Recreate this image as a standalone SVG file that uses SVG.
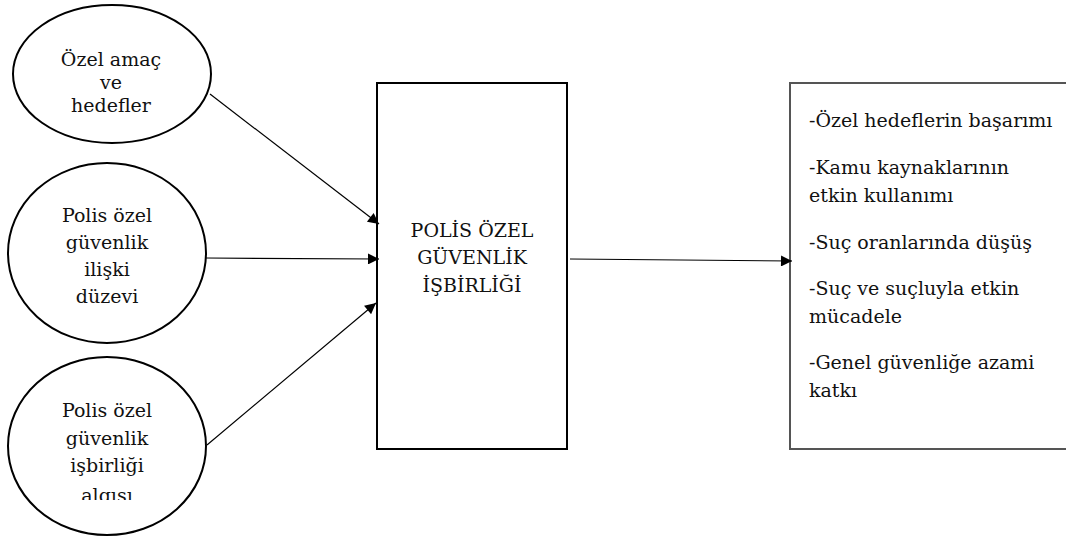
<svg xmlns="http://www.w3.org/2000/svg" width="1066" height="539" viewBox="0 0 1066 539">
<style>
.t{font-family:"DejaVu Serif","Liberation Serif",serif;font-size:19px;fill:#111;}
.c{text-anchor:middle;}
.node{fill:#fff;stroke:#000;stroke-width:2;}
.out{fill:#fff;stroke:#555;stroke-width:2;}
.edge{stroke:#000;stroke-width:1.2;fill:none;marker-end:url(#ah);}
</style>
<defs>
<marker id="ah" viewBox="0 0 10 10" refX="10" refY="5" markerWidth="15" markerHeight="11" markerUnits="userSpaceOnUse" orient="auto">
<path d="M0,0 L10,5 L0,10 z" fill="#000"/>
</marker>
<clipPath id="clip3"><rect x="0" y="350" width="220" height="150"/></clipPath>
</defs>
<rect width="1066" height="539" fill="#fff"/>
<g id="n1">
<ellipse class="node" cx="112" cy="74" rx="99" ry="69"/>
<text class="t c" x="111" y="66">Özel amaç</text>
<text class="t c" x="111" y="89">ve</text>
<text class="t c" x="111" y="112">hedefler</text>
</g>
<g id="n2">
<ellipse class="node" cx="107" cy="253" rx="99" ry="90"/>
<text class="t c" x="107" y="222">Polis özel</text>
<text class="t c" x="107" y="249">güvenlik</text>
<text class="t c" x="107" y="276">ilişki</text>
<text class="t c" x="107" y="303">düzevi</text>
</g>
<g id="n3">
<ellipse class="node" cx="107" cy="446" rx="99" ry="89"/>
<g clip-path="url(#clip3)">
<text class="t c" x="107" y="417">Polis özel</text>
<text class="t c" x="107" y="445">güvenlik</text>
<text class="t c" x="107" y="472">işbirliği</text>
<text class="t c" x="107" y="502">algısı</text>
</g>
</g>
<g id="center">
<rect class="node" x="377" y="83" width="190" height="366"/>
<text class="t c" x="472" y="237">POLİS ÖZEL</text>
<text class="t c" x="472" y="264">GÜVENLİK</text>
<text class="t c" x="472" y="292">İŞBİRLİĞİ</text>
</g>
<g id="outcome">
<rect class="out" x="790" y="83" width="290" height="366"/>
<text class="t" x="809" y="127">-Özel hedeflerin başarımı</text>
<text class="t" x="809" y="174">-Kamu kaynaklarının</text>
<text class="t" x="809" y="202">etkin kullanımı</text>
<text class="t" x="809" y="249">-Suç oranlarında düşüş</text>
<text class="t" x="809" y="295">-Suç ve suçluyla etkin</text>
<text class="t" x="809" y="323">mücadele</text>
<text class="t" x="809" y="369">-Genel güvenliğe azami</text>
<text class="t" x="809" y="397">katkı</text>
</g>
<g id="connectors">
<line class="edge" x1="210" y1="94" x2="379" y2="224"/>
<line class="edge" x1="206" y1="258" x2="379" y2="259"/>
<line class="edge" x1="207" y1="445" x2="376" y2="303"/>
<line class="edge" x1="570" y1="259" x2="792" y2="261"/>
</g>
</svg>
